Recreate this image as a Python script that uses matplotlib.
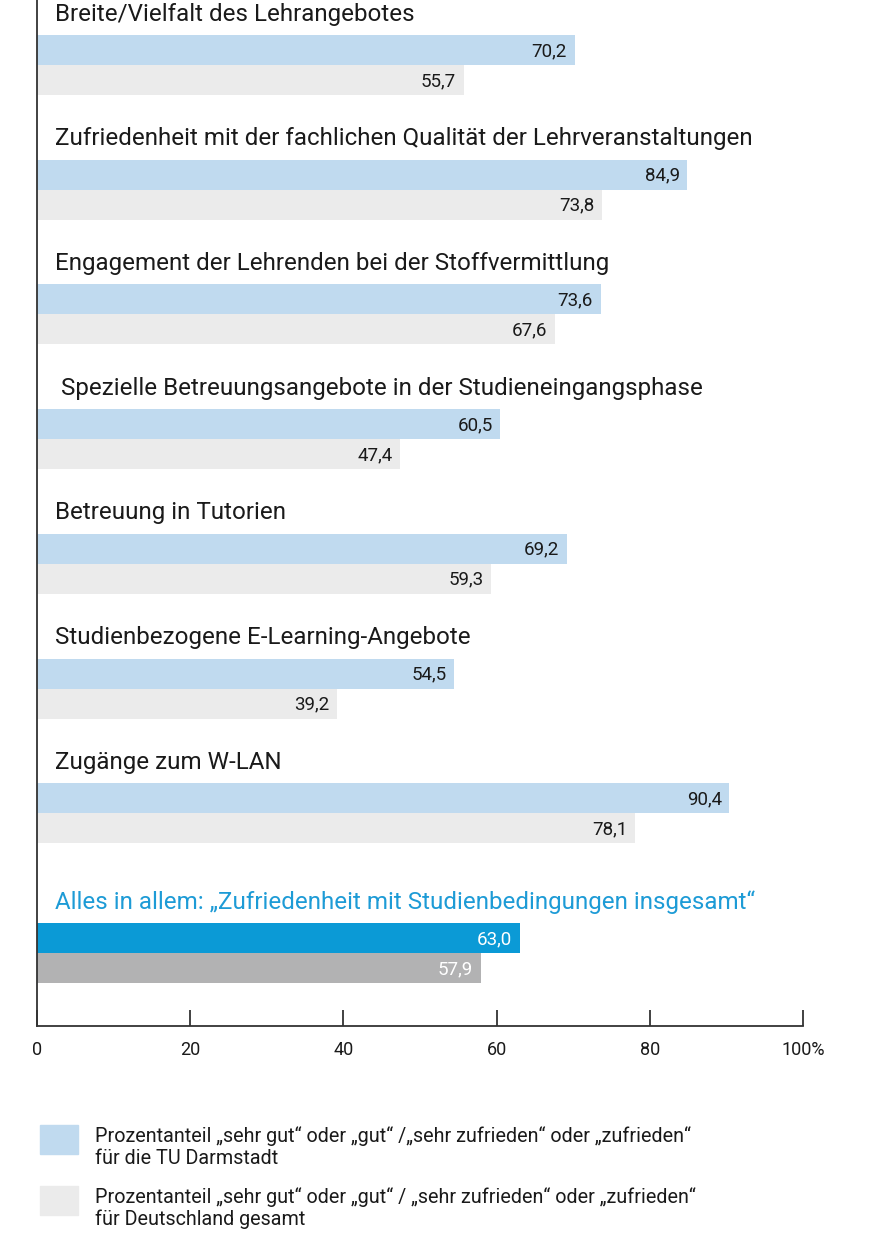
import matplotlib
matplotlib.use("Agg")
import matplotlib.pyplot as plt
from matplotlib import font_manager as fm
from matplotlib.patches import Rectangle

names = {f.name for f in fm.fontManager.ttflist}
FONT = "Liberation Sans Narrow" if "Liberation Sans Narrow" in names else "Roboto"
plt.rcParams["font.family"] = [FONT, "DejaVu Sans"]

categories = [
    "Breite/Vielfalt des Lehrangebotes",
    "Zufriedenheit mit der fachlichen Qualität der Lehrveranstaltungen",
    "Engagement der Lehrenden bei der Stoffvermittlung",
    " Spezielle Betreuungsangebote in der Studieneingangsphase",
    "Betreuung in Tutorien",
    "Studienbezogene E-Learning-Angebote",
    "Zugänge zum W-LAN",
    "Alles in allem: „Zufriedenheit mit Studienbedingungen insgesamt“",
]
tu_values = [70.2, 84.9, 73.6, 60.5, 69.2, 54.5, 90.4, 63.0]
de_values = [55.7, 73.8, 67.6, 47.4, 59.3, 39.2, 78.1, 57.9]
xticks = [0, 20, 40, 60, 80, 100]
xticklabels = ["0", "20", "40", "60", "80", "100%"]
legend_labels = [
    "Prozentanteil „sehr gut“ oder „gut“ /„sehr zufrieden“ oder „zufrieden“\nfür die TU Darmstadt",
    "Prozentanteil „sehr gut“ oder „gut“ / „sehr zufrieden“ oder „zufrieden“\nfür Deutschland gesamt",
]

LIGHT_BLUE = "#c0daef"
LIGHT_GREY = "#ebebeb"
DARK_BLUE = "#0b9ad6"
DARK_GREY = "#b2b2b3"
TEXT = "#1a1a1a"

W, H = 870, 1243
fig = plt.figure(figsize=(W / 100, H / 100), dpi=100)
ax_left, ax_right, ax_bottom_px = 37, 803, 1026
ax = fig.add_axes([ax_left / W, (H - ax_bottom_px) / H, (ax_right - ax_left) / W, ax_bottom_px / H])
ax.set_xlim(0, 100)
ax.set_ylim(ax_bottom_px, 0)

bar_h = 30
group_step = 124.7
first_top = 35
for i, (cat, tu, de) in enumerate(zip(categories, tu_values, de_values)):
    last = i == len(categories) - 1
    top = first_top + group_step * i if not last else 923
    c1 = DARK_BLUE if last else LIGHT_BLUE
    c2 = DARK_GREY if last else LIGHT_GREY
    tc = "white" if last else TEXT
    ax.barh(top + bar_h / 2, tu, height=bar_h, color=c1, left=0)
    ax.barh(top + bar_h * 1.5, de, height=bar_h, color=c2, left=0)
    ax.text(tu - 1.0, top + bar_h / 2 + 1, f"{tu:.1f}".replace(".", ","), ha="right", va="center",
            fontsize=13.5, color=tc)
    ax.text(de - 1.0, top + bar_h * 1.5 + 1, f"{de:.1f}".replace(".", ","), ha="right", va="center",
            fontsize=13.5, color=tc)
    ax.text(2.3, top - 21, cat, ha="left", va="center", fontsize=17.4,
            color="#1d9bd6" if last else TEXT)

for s in ["top", "right"]:
    ax.spines[s].set_visible(False)
ax.spines["left"].set_color("#333333")
ax.spines["bottom"].set_color("#333333")
ax.spines["left"].set_linewidth(1.3)
ax.spines["bottom"].set_linewidth(1.3)
ax.set_yticks([])
ax.set_xticks(xticks)
ax.set_xticklabels(xticklabels, fontsize=13, color=TEXT)
ax.tick_params(axis="x", direction="in", length=11.5, width=1.3, color="#333333", pad=11)

# legend
for j, (lab, col) in enumerate(zip(legend_labels, [LIGHT_BLUE, LIGHT_GREY])):
    y0 = 1125 + 61 * j
    fig.patches.append(Rectangle((40 / W, 1 - (y0 + 29) / H), 38 / W, 29 / H,
                                 transform=fig.transFigure, color=col))
    fig.text(95 / W, 1 - (y0 + 22) / H, lab, ha="left", va="center", fontsize=14.2,
             color=TEXT, linespacing=1.15)

fig.savefig("out.png", dpi=100)
